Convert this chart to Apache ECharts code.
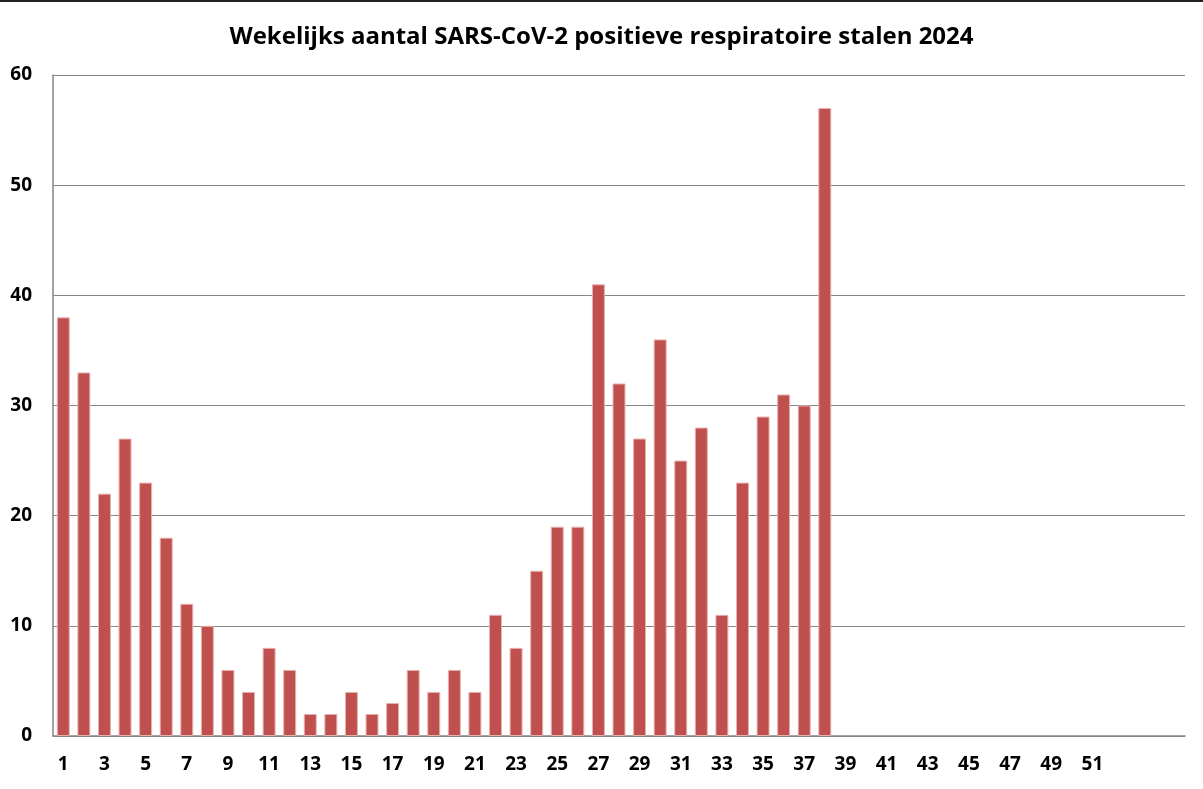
<!DOCTYPE html>
<html>
<head>
<meta charset="utf-8">
<script src="https://cdn.jsdelivr.net/npm/echarts@6/dist/echarts.min.js"></script>
<style>
  html, body { margin: 0; padding: 0; background: #fff; }
  #chart { width: 1203px; height: 789px; }
</style>
</head>
<body>
<div id="chart"></div>
<script>
// weeknummers 1..52 plus drie lege posities (zoals in de bron-grafiek)
const weeks = [];
for (let w = 1; w <= 52; w++) weeks.push(String(w));
weeks.push('', '', '');

const positives = [
  38, 33, 22, 27, 23, 18, 12, 10, 6, 4,
  8, 6, 2, 2, 4, 2, 3, 6, 4, 6,
  4, 11, 8, 15, 19, 19, 41, 32, 27, 36,
  25, 28, 11, 23, 29, 31, 30, 57
];

const yTicks = { min: 0, max: 60, interval: 10 };

let myChart = echarts.init(document.getElementById('chart'));
myChart.setOption({
  animation: false,
  title: {
    text: 'Wekelijks aantal SARS-CoV-2 positieve respiratoire stalen 2024',
    left: 'center',
    top: 20,
    textStyle: {
      fontFamily: 'Open Sans',
      fontWeight: 'bold',
      fontSize: 24,
      color: '#000'
    }
  },
  grid: { left: 53, right: 18, top: 75, bottom: 53, containLabel: false },
  xAxis: {
    type: 'category',
    data: weeks,
    axisLine: { lineStyle: { color: '#868686', width: 1.5 } },
    axisTick: { show: false },
    axisLabel: {
      interval: 1,
      margin: 19,
      color: '#000',
      fontFamily: 'Open Sans',
      fontWeight: 'bold',
      fontSize: 19
    }
  },
  yAxis: {
    type: 'value',
    min: yTicks.min,
    max: yTicks.max,
    interval: yTicks.interval,
    axisLine: { show: true, lineStyle: { color: '#868686', width: 1.5 } },
    axisTick: { show: false },
    splitLine: { lineStyle: { color: '#868686', width: 1 } },
    axisLabel: {
      margin: 21,
      color: '#000',
      fontFamily: 'Open Sans',
      fontWeight: 'bold',
      fontSize: 19
    }
  },
  series: [
    {
      name: 'positief',
      type: 'bar',
      data: positives,
      barCategoryGap: '37%',
      itemStyle: {
        color: '#C0504D',
        borderColor: '#E6B2B1',
        borderWidth: 1
      }
    }
  ],
  graphic: [
    {
      type: 'rect',
      left: 0,
      top: 0,
      shape: { width: 1203, height: 2 },
      style: { fill: '#222' }
    }
  ]
});
</script>
</body>
</html>
